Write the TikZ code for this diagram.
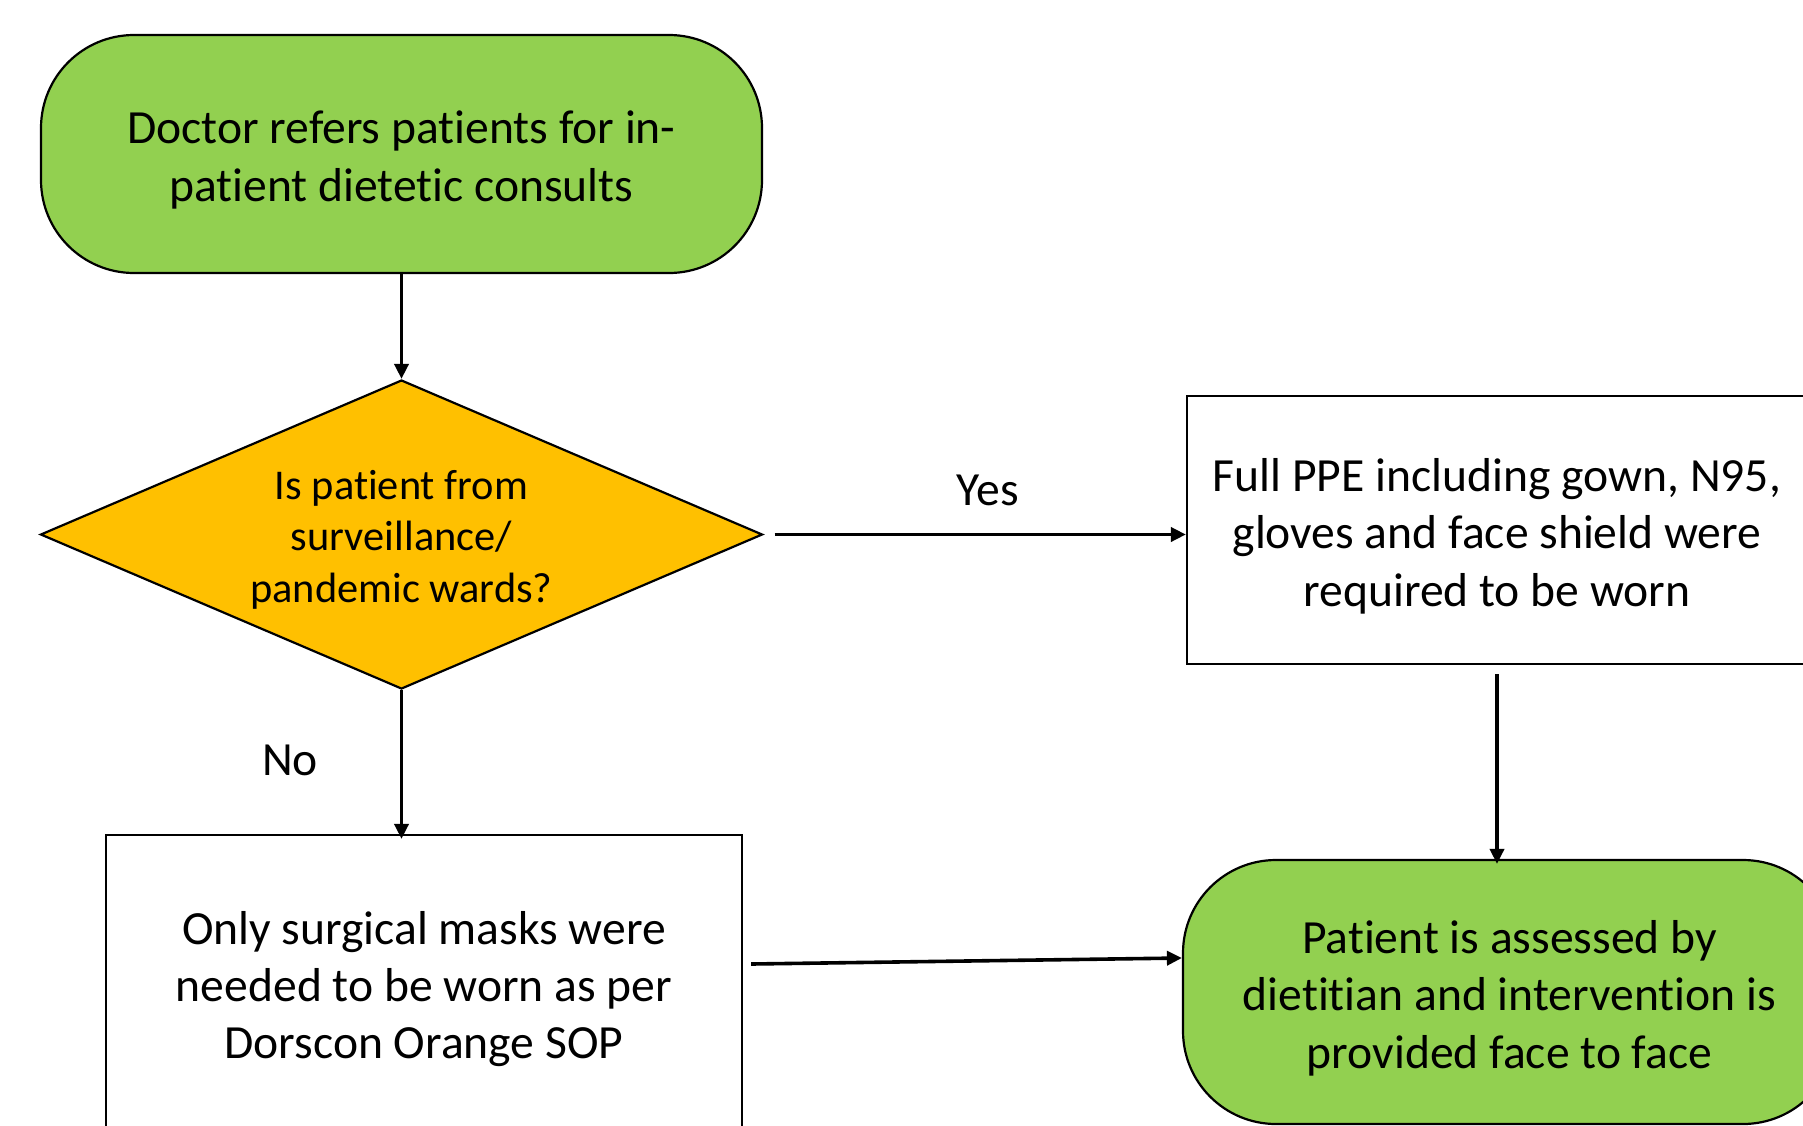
\documentclass[tikz,border=0pt]{standalone}
\usepackage{fontspec}
\setmainfont{Carlito}[Ligatures=NoCommon]
\usetikzlibrary{shapes.geometric,arrows.meta}
\definecolor{lgreen}{RGB}{146,208,80}
\definecolor{gold}{RGB}{255,192,0}
\tikzset{
  base/.style={draw=black, line width=2.2pt, inner sep=0pt},
  txt/.style={align=center, inner sep=0pt, yshift=-6pt, font=\fontsize{47.6}{57.4}\selectfont},
  dtxt/.style={align=center, inner sep=0pt, yshift=-5pt, font=\fontsize{42.4}{51.6}\selectfont},
  term/.style={base, fill=lgreen, rounded corners=93pt},
  procbox/.style={base, fill=white},
  decide/.style={base, shape=diamond, fill=gold},
  arr/.style={line width=3.6pt, -{Triangle[length=15pt,width=14pt]}},
  lbl/.style={font=\fontsize{47.6}{57.4}\selectfont, inner sep=0pt}
}
\begin{document}
\begin{tikzpicture}[x=1pt,y=-1pt]
\useasboundingbox (0,0) rectangle (1803,1125);
\fill[white] (0,0) rectangle (1803,1125);
\clip (0,0) rectangle (1803,1125);

\node[term, minimum width=721pt, minimum height=238pt,
  label={[txt]center:Doctor refers patients for in-\\patient dietetic consults}] (top) at (401.5,154) {};
\node[decide, minimum width=722pt, minimum height=309pt, aspect=2.34,
  label={[dtxt]center:Is patient from\\surveillance/\\pandemic wards?}] (d) at (401.5,534.5) {};
\node[procbox, minimum width=620pt, minimum height=268pt,
  label={[txt]center:Full PPE including gown, N95,\\gloves and face shield were\\required to be worn}] (rb) at (1497,530) {};
\node[procbox, minimum width=636pt, minimum height=296pt,
  label={[txt]center:Only surgical masks were\\needed to be worn as per\\Dorscon Orange SOP}] (bl) at (424,983) {};
\node[term, minimum width=653pt, minimum height=264pt,
  label={[txt]center:Patient is assessed by\\dietitian and intervention is\\provided face to face}] (br) at (1509.5,992) {};

\node[lbl] (yes) at (988,490) {Yes};
\node[lbl] (no) at (290,760) {No};

\draw[arr] (top.south) -- (d.north);
\draw[arr] ([xshift=11pt]d.east) -- (d.east -| rb.west);
\draw[arr] ([yshift=-9pt]rb.south) -- ([yshift=-5pt]rb.south |- br.north);
\draw[arr] (d.south) -- ([yshift=-5pt]d.south |- bl.north);
\draw[arr] ([shift={(8pt,19pt)}]bl.east) -- ([yshift=34pt]br.west);
\end{tikzpicture}
\end{document}
